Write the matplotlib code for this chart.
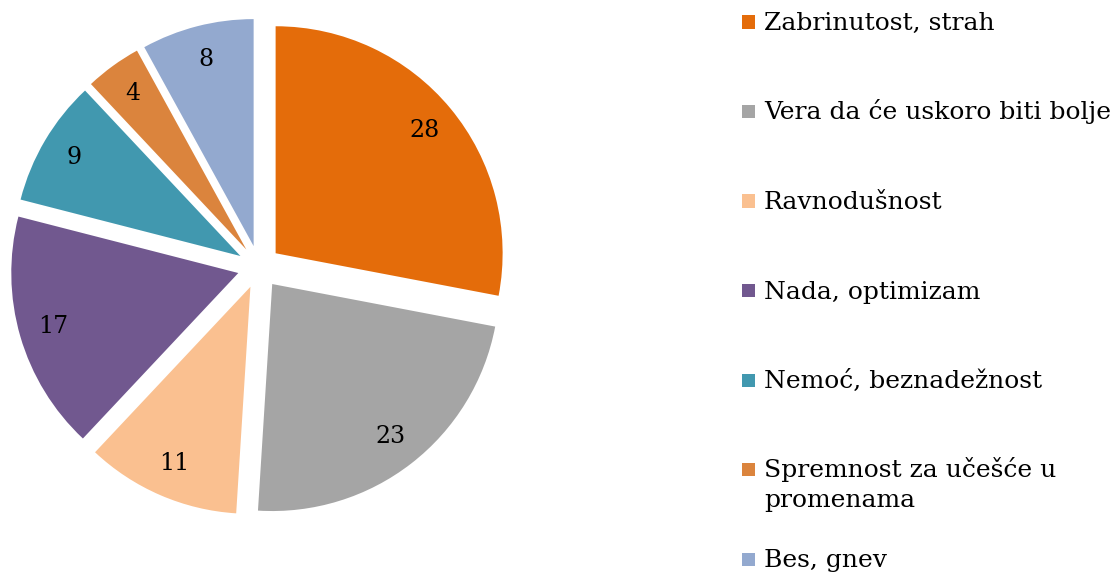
import matplotlib.pyplot as plt
from matplotlib.patches import Rectangle

labels = ['Zabrinutost, strah', 'Vera da će uskoro biti bolje', 'Ravnodušnost',
          'Nada, optimizam', 'Nemoć, beznadežnost', 'Spremnost za učešće u\npromenama',
          'Bes, gnev']
values = [28, 23, 11, 17, 9, 4, 8]
colors = ['#E46C0A', '#A5A5A5', '#FAC090', '#71588F', '#4198AF', '#DB843D', '#93A9CF']


def main():
    plt.rcParams['font.family'] = ['DejaVu Serif']
    W, H = 1115, 579
    fig = plt.figure(figsize=(W / 100, H / 100), dpi=100)
    ax = fig.add_axes([0, 0, 1, 1])

    # pie centre and radius in pixels
    cx, cy, R = 259, 267, 227
    ax.pie(values, colors=colors, startangle=90, counterclock=False,
           explode=[0.095] * len(values), autopct=lambda p: f'{p:.0f}',
           pctdistance=0.85, wedgeprops=dict(linewidth=0),
           textprops=dict(fontsize=17, color='black'))
    ax.set_xlim(-cx / R, (W - cx) / R)
    ax.set_ylim(-(H - cy) / R, cy / R)
    ax.set_aspect('equal')
    ax.axis('off')

    # legend, evenly spaced entries like the original
    for i, (lab, col) in enumerate(zip(labels, colors)):
        yc = 22 + i * 89.5
        fig.add_artist(Rectangle((742 / W, 1 - (yc + 6.5) / H), 13 / W, 13 / H,
                                 transform=fig.transFigure, color=col, lw=0))
        for j, line in enumerate(lab.split('\n')):
            fig.text(764 / W, 1 - (yc + 8 + j * 30) / H, line, fontsize=18,
                     va='baseline', ha='left')

    fig.savefig('out.png', dpi=100)


if __name__ == '__main__':
    main()
